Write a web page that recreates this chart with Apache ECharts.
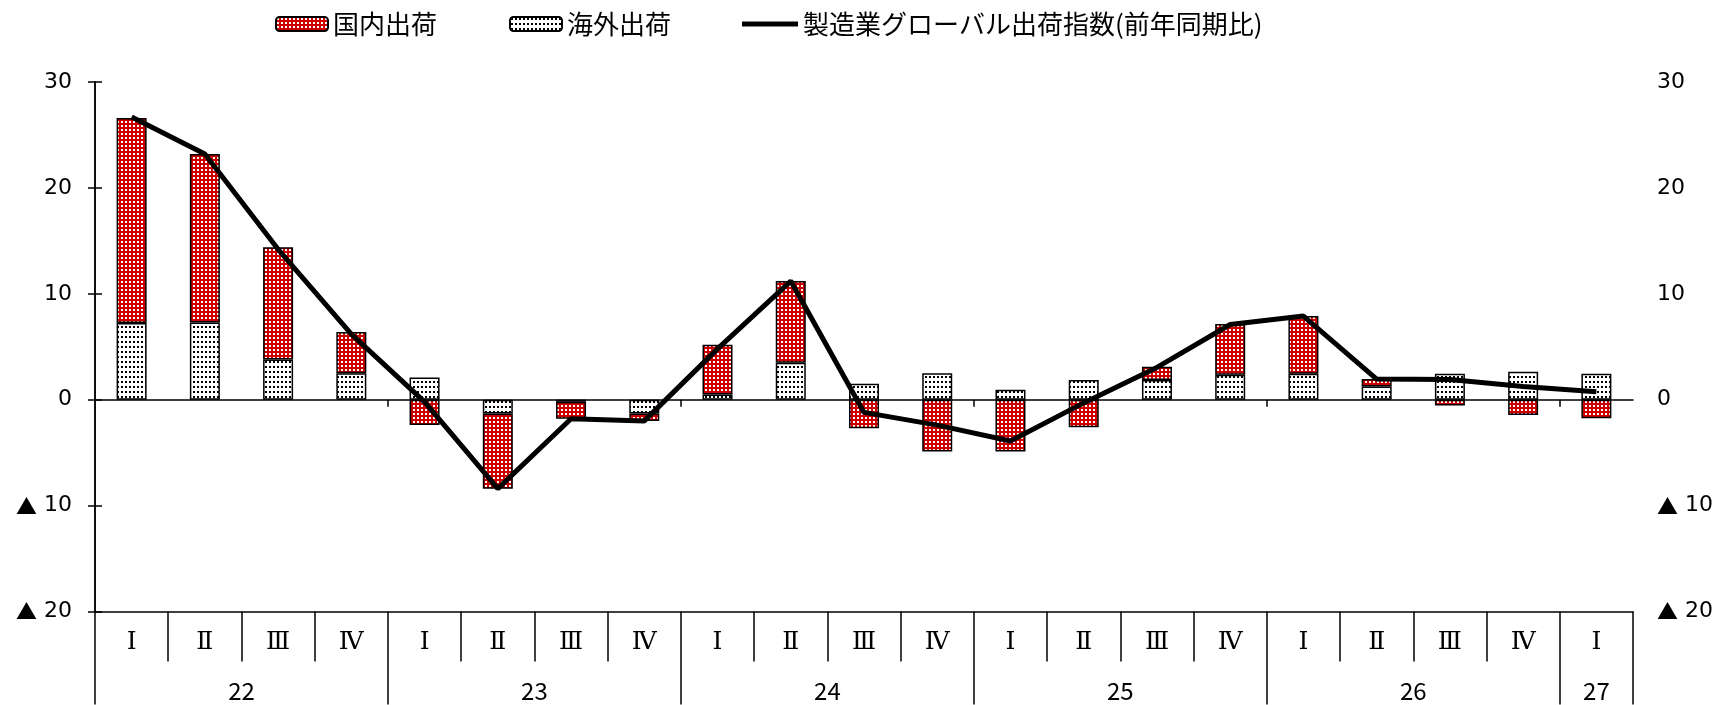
<!DOCTYPE html>
<html>
<head>
<meta charset="utf-8">
<script src="https://cdn.jsdelivr.net/npm/echarts@6/dist/echarts.min.js"></script>
<style>
  html, body { margin: 0; padding: 0; background: #fff; }
  #chart { width: 1721px; height: 705px; }
</style>
</head>
<body>
<div id="chart"></div>
<script>
// Quarterly categories (Ⅰ–Ⅳ) grouped under fiscal years
const quarters = ['Ⅰ','Ⅱ','Ⅲ','Ⅳ','Ⅰ','Ⅱ','Ⅲ','Ⅳ','Ⅰ','Ⅱ','Ⅲ','Ⅳ','Ⅰ','Ⅱ','Ⅲ','Ⅳ','Ⅰ','Ⅱ','Ⅲ','Ⅳ','Ⅰ'];
const years = ['22','23','24','25','26','27'];
const yearStarts = [0, 4, 8, 12, 16, 20, 21]; // category index where each year begins (last = end)

// Contributions (percentage points)
const domestic = [19.35, 15.9, 10.6, 3.9, -2.4, -7.1, -1.6, -0.7, 4.7, 7.7, -2.7, -4.9, -4.9, -2.6, 1.25, 4.8, 5.45, 0.7, -0.55, -1.45, -1.75];
const overseas = [7.25, 7.3, 3.8, 2.5, 2.1, -1.3, -0.2, -1.3, 0.5, 3.5, 1.5, 2.5, 0.95, 1.85, 1.85, 2.35, 2.45, 1.25, 2.45, 2.65, 2.45];
// Global shipment index, year-on-year (%)
const globalIndex = [26.7, 23.2, 14.2, 6.2, -0.2, -8.4, -1.8, -2.0, 4.8, 11.2, -1.2, -2.4, -3.9, -0.3, 3.05, 7.1, 7.9, 1.95, 1.9, 1.25, 0.75];

const yTicks = { min: -20, max: 30, step: 10 };

// Dotted fill patterns
function makePattern(w, h, bg, dot, ds) {
  const c = document.createElement('canvas');
  c.width = w; c.height = h;
  const g = c.getContext('2d');
  g.fillStyle = bg; g.fillRect(0, 0, w, h);
  g.fillStyle = dot; g.fillRect(1, 1, ds, ds);
  return c;
}
const redDots = { image: makePattern(4, 4, '#cc0000', '#ffffff', 2), repeat: 'repeat' };
const whiteDots = { image: makePattern(4, 5, '#ffffff', '#000000', 2), repeat: 'repeat' };

const yearMid = years.map((_, i) => (yearStarts[i] + yearStarts[i + 1]) / 2);

const chart = echarts.init(document.getElementById('chart'));
const axisColor = '#000';
// Negative values are written with a leading ▲
const yLabel = v => (v < 0 ? '{tri|▲} ' + (-v) : String(v));
const yRich = { tri: { fontFamily: 'Noto Sans CJK JP', fontSize: 21, color: '#000' } };
const legendText = { fontSize: 26, color: '#000', fontFamily: 'Noto Sans CJK JP' };
const lineName = '製造業グローバル出荷指数(前年同期比)';

chart.setOption({
  animation: false,
  backgroundColor: '#fff',
  grid: { left: 95, right: 88, top: 82, bottom: 93.5, containLabel: false },
  legend: [
    { data: ['国内出荷'], left: 275, top: 11, padding: 0, itemWidth: 52, itemHeight: 14, itemGap: 5, textStyle: legendText },
    { data: ['海外出荷'], left: 509, top: 11, padding: 0, itemWidth: 52, itemHeight: 14, itemGap: 5, textStyle: legendText },
    { data: [{ name: lineName, icon: 'rect' }], left: 742, top: 11, padding: 0, itemWidth: 56, itemHeight: 5, itemGap: 4,
      itemStyle: { color: '#000', borderWidth: 0 }, textStyle: legendText }
  ],
  xAxis: [
    { // quarter row along the bottom edge
      type: 'category', data: quarters, position: 'bottom',
      axisLine: { onZero: false, lineStyle: { color: axisColor, width: 1.5 } },
      axisTick: { show: true, interval: 0, length: 50, lineStyle: { color: axisColor, width: 1.5 } },
      axisLabel: { interval: 0, margin: 18, fontSize: 25, color: '#000', fontFamily: 'DejaVu Serif' },
      splitLine: { show: false }
    },
    { // year row with long separators
      type: 'value', min: 0, max: 21, position: 'bottom',
      axisLine: { show: false, onZero: false },
      axisTick: { show: true, customValues: yearStarts, length: 93, lineStyle: { color: axisColor, width: 1.5 } },
      axisLabel: { customValues: yearMid, margin: 67, fontSize: 24, color: '#000', fontFamily: 'Noto Sans CJK JP',
        formatter: v => years[yearMid.indexOf(v)] },
      splitLine: { show: false }
    },
    { // zero line with year boundary marks
      type: 'value', min: 0, max: 21, position: 'bottom',
      axisLine: { show: true, onZero: true, lineStyle: { color: axisColor, width: 1.5 } },
      axisTick: { show: true, customValues: yearStarts.slice(1, -1), length: 7, lineStyle: { color: axisColor, width: 1.5 } },
      axisLabel: { show: false },
      splitLine: { show: false }
    }
  ],
  yAxis: [
    {
      type: 'value', min: yTicks.min, max: yTicks.max, interval: yTicks.step, position: 'left',
      axisLine: { show: true, lineStyle: { color: axisColor, width: 1.5 } },
      axisTick: { show: true, inside: true, length: 7, lineStyle: { color: axisColor, width: 1.5 } },
      axisLabel: { margin: 23, fontSize: 22, color: '#000', fontFamily: 'DejaVu Sans', formatter: yLabel, rich: yRich },
      splitLine: { show: false }
    },
    {
      type: 'value', min: yTicks.min, max: yTicks.max, interval: yTicks.step, position: 'right',
      axisLine: { show: true, lineStyle: { color: axisColor, width: 1.5 } },
      axisTick: { show: true, inside: true, length: 7, lineStyle: { color: axisColor, width: 1.5 } },
      axisLabel: { margin: 24, fontSize: 22, color: '#000', fontFamily: 'DejaVu Sans', formatter: yLabel, rich: yRich },
      splitLine: { show: false }
    }
  ],
  series: [
    {
      name: '海外出荷', type: 'bar', stack: 'contrib', xAxisIndex: 0, yAxisIndex: 0,
      barWidth: 30, data: overseas,
      itemStyle: { color: whiteDots, borderColor: '#000', borderWidth: 1.5 }
    },
    {
      name: '国内出荷', type: 'bar', stack: 'contrib', xAxisIndex: 0, yAxisIndex: 0,
      barWidth: 30, data: domestic,
      itemStyle: { color: redDots, borderColor: '#000', borderWidth: 1.5 }
    },
    {
      name: lineName, type: 'line', xAxisIndex: 0, yAxisIndex: 0,
      data: globalIndex, symbol: 'none', z: 5,
      lineStyle: { color: '#000', width: 5 }, itemStyle: { color: '#000' }
    }
  ]
});
</script>
</body>
</html>
